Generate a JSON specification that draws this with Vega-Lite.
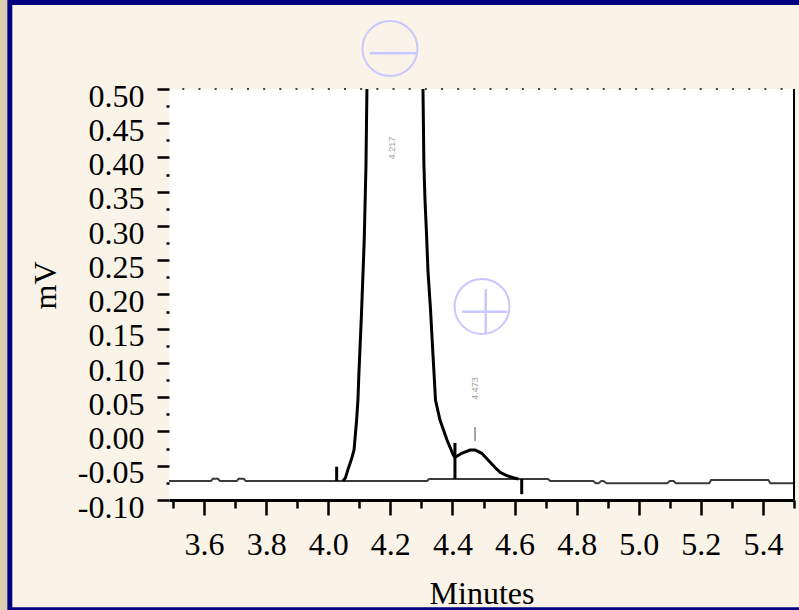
{
  "$schema": "https://vega.github.io/schema/vega-lite/v6.json",
  "width": 625,
  "height": 411,
  "autosize": {"type": "none"},
  "padding": {"left": 169, "top": 89, "right": 5, "bottom": 110},
  "background": "#faf3e8",
  "config": {
    "view": {"stroke": null, "fill": "#ffffff"},
    "font": "Liberation Serif",
    "axis": {
      "labelFont": "Liberation Serif", "titleFont": "Liberation Serif",
      "labelColor": "#000000", "titleColor": "#000000", "tickColor": "#000000", "domainColor": "#000000",
      "grid": false, "labelFontSize": 32, "titleFontSize": 32, "titleFontWeight": "normal",
      "labelFlush": false, "labelOverlap": false
    }
  },
  "datasets": {
    "one": [{}],
    "baseline": [
      {"t": 3.487, "v": -0.0723}, {"t": 3.622, "v": -0.0723}, {"t": 3.628, "v": -0.069}, {"t": 3.645, "v": -0.069},
      {"t": 3.651, "v": -0.0723}, {"t": 3.705, "v": -0.0723}, {"t": 3.711, "v": -0.069}, {"t": 3.728, "v": -0.069},
      {"t": 3.734, "v": -0.0723}, {"t": 4.318, "v": -0.0723}, {"t": 4.325, "v": -0.0693}, {"t": 4.708, "v": -0.0693},
      {"t": 4.715, "v": -0.0723}, {"t": 4.853, "v": -0.0723}, {"t": 4.862, "v": -0.0756}, {"t": 4.870, "v": -0.0756},
      {"t": 4.880, "v": -0.0723}, {"t": 4.886, "v": -0.0723}, {"t": 4.896, "v": -0.0756}, {"t": 5.092, "v": -0.0756},
      {"t": 5.100, "v": -0.0723}, {"t": 5.112, "v": -0.0723}, {"t": 5.120, "v": -0.0756}, {"t": 5.227, "v": -0.0756},
      {"t": 5.233, "v": -0.0708}, {"t": 5.417, "v": -0.0708}, {"t": 5.424, "v": -0.0756}, {"t": 5.5, "v": -0.0756}
    ],
    "signal": [
      {"t": 4.047, "v": -0.0723}, {"t": 4.055, "v": -0.068}, {"t": 4.063, "v": -0.056}, {"t": 4.075, "v": -0.04},
      {"t": 4.083, "v": -0.027}, {"t": 4.0913, "v": 0.0168}, {"t": 4.0955, "v": 0.046}, {"t": 4.0987, "v": 0.0854},
      {"t": 4.1068, "v": 0.1701}, {"t": 4.1158, "v": 0.2796}, {"t": 4.1213, "v": 0.3861}, {"t": 4.1245, "v": 0.5},
      {"t": 4.14, "v": 0.75}, {"t": 4.2, "v": 1.05}, {"t": 4.28, "v": 0.75}, {"t": 4.305, "v": 0.5},
      {"t": 4.308, "v": 0.3905}, {"t": 4.3115, "v": 0.338}, {"t": 4.3163, "v": 0.2898}, {"t": 4.3211, "v": 0.2343},
      {"t": 4.3292, "v": 0.1788}, {"t": 4.3356, "v": 0.1248}, {"t": 4.342, "v": 0.0737}, {"t": 4.3453, "v": 0.046},
      {"t": 4.3598, "v": 0.0168}, {"t": 4.3824, "v": -0.0124}, {"t": 4.4027, "v": -0.0343}, {"t": 4.4082, "v": -0.0377},
      {"t": 4.4298, "v": -0.0318}, {"t": 4.4565, "v": -0.027}, {"t": 4.4727, "v": -0.027}, {"t": 4.4943, "v": -0.0318},
      {"t": 4.5155, "v": -0.042}, {"t": 4.5371, "v": -0.0525}, {"t": 4.5533, "v": -0.0595}, {"t": 4.5749, "v": -0.0645},
      {"t": 4.5961, "v": -0.0675}, {"t": 4.6123, "v": -0.0693}
    ],
    "markers": [
      {"t": 4.027, "v1": -0.0723, "v2": -0.0514},
      {"t": 4.408, "v1": -0.0693, "v2": -0.0166},
      {"t": 4.623, "v1": -0.0693, "v2": -0.0915}
    ],
    "apex": [{"t": 4.4727, "v1": 0.0066, "v2": -0.0139}],
    "peaklabels": [
      {"t": 4.205, "v": 0.4139, "label": "4.217"},
      {"t": 4.4727, "v": 0.0628, "label": "4.473"}
    ],
    "symbols": [
      {"t": 4.1987, "v": 0.5591, "kind": "minus"},
      {"t": 4.4952, "v": 0.1825, "kind": "plus"}
    ]
  },
  "layer": [
    {
      "data": {"name": "one"},
      "mark": {"type": "rule", "color": "#dccfb0", "strokeWidth": 7.3, "clip": false},
      "encoding": {
        "x": {"datum": 2.9545, "type": "quantitative", "scale": {"domain": [3.487, 5.5], "nice": false, "zero": false}, "axis": null},
        "y": {"datum": 0.632, "type": "quantitative", "scale": {"domain": [-0.1, 0.5], "nice": false, "zero": false}, "axis": null},
        "y2": {"datum": -0.262}
      }
    },
    {
      "data": {"name": "one"},
      "mark": {"type": "rule", "color": "#000080", "strokeWidth": 5, "clip": false},
      "encoding": {
        "x": {"datum": 2.9743, "type": "quantitative", "scale": {"domain": [3.487, 5.5], "nice": false, "zero": false}, "axis": null},
        "y": {"datum": 0.632, "type": "quantitative", "scale": {"domain": [-0.1, 0.5], "nice": false, "zero": false}, "axis": null},
        "y2": {"datum": -0.262}
      }
    },
    {
      "data": {"name": "one"},
      "mark": {"type": "rule", "color": "#000080", "strokeWidth": 5, "clip": false},
      "encoding": {
        "x": {"datum": 2.9685, "type": "quantitative", "scale": {"domain": [3.487, 5.5], "nice": false, "zero": false}, "axis": null},
        "x2": {"datum": 5.7},
        "y": {"datum": 0.6263, "type": "quantitative", "scale": {"domain": [-0.1, 0.5], "nice": false, "zero": false}, "axis": null}
      }
    },
    {
      "data": {"name": "one"},
      "mark": {"type": "rule", "color": "#000080", "strokeWidth": 3, "clip": false},
      "encoding": {
        "x": {"datum": 2.9685, "type": "quantitative", "scale": {"domain": [3.487, 5.5], "nice": false, "zero": false}, "axis": null},
        "x2": {"datum": 5.7},
        "y": {"datum": -0.2587, "type": "quantitative", "scale": {"domain": [-0.1, 0.5], "nice": false, "zero": false}, "axis": null}
      }
    },
    {
      "data": {"name": "baseline"},
      "mark": {"type": "line", "color": "#3a3a3a", "strokeWidth": 2, "clip": true},
      "encoding": {
        "x": {
          "field": "t", "type": "quantitative",
          "scale": {"domain": [3.487, 5.5], "nice": false, "zero": false},
          "axis": {
            "orient": "bottom", "values": [3.6, 3.8, 4.0, 4.2, 4.4, 4.6, 4.8, 5.0, 5.2, 5.4], "format": ".1f",
            "tickSize": 15, "tickWidth": 2.5, "domainWidth": 3, "labelPadding": 14,
            "title": "Minutes", "titlePadding": 18
          }
        },
        "y": {
          "field": "v", "type": "quantitative",
          "scale": {"domain": [-0.1, 0.5], "nice": false, "zero": false},
          "axis": {
            "orient": "left",
            "values": [-0.1, -0.05, 0, 0.05, 0.1, 0.15, 0.2, 0.25, 0.3, 0.35, 0.4, 0.45, 0.5],
            "labelExpr": "replace(format(datum.value, '.2f'), '\u2212', '-')",
            "tickSize": 12, "tickWidth": 2.5, "domain": false, "labelPadding": 13, "labelOffset": 7,
            "title": "mV", "titlePadding": 15, "titleY": 196
          }
        }
      }
    },
    {
      "data": {"name": "signal"},
      "mark": {"type": "line", "color": "#000000", "strokeWidth": 3, "clip": true},
      "encoding": {
        "x": {
          "field": "t", "type": "quantitative",
          "scale": {"domain": [3.487, 5.5], "nice": false, "zero": false},
          "axis": {
            "orient": "bottom", "values": [3.5, 3.7, 3.9, 4.1, 4.3, 4.5, 4.7, 4.9, 5.1, 5.3, 5.5],
            "tickSize": 8, "tickWidth": 2.5, "labels": false, "domain": false, "title": null
          }
        },
        "y": {
          "field": "v", "type": "quantitative",
          "scale": {"domain": [-0.1, 0.5], "nice": false, "zero": false},
          "axis": {
            "orient": "left",
            "values": [-0.075, -0.025, 0.025, 0.075, 0.125, 0.175, 0.225, 0.275, 0.325, 0.375, 0.425, 0.475],
            "tickSize": 3, "tickWidth": 2.5, "labels": false, "domain": false, "title": null
          }
        }
      }
    },
    {
      "data": {"name": "markers"},
      "mark": {"type": "rule", "color": "#000000", "strokeWidth": 3},
      "encoding": {
        "x": {"field": "t", "type": "quantitative", "scale": {"domain": [3.487, 5.5], "nice": false, "zero": false}, "axis": null},
        "y": {"field": "v1", "type": "quantitative", "scale": {"domain": [-0.1, 0.5], "nice": false, "zero": false}, "axis": null},
        "y2": {"field": "v2"}
      }
    },
    {
      "data": {"name": "apex"},
      "mark": {"type": "rule", "color": "#888888", "strokeWidth": 1.5},
      "encoding": {
        "x": {"field": "t", "type": "quantitative", "scale": {"domain": [3.487, 5.5], "nice": false, "zero": false}, "axis": null},
        "y": {"field": "v1", "type": "quantitative", "scale": {"domain": [-0.1, 0.5], "nice": false, "zero": false}, "axis": null},
        "y2": {"field": "v2"}
      }
    },
    {
      "data": {"name": "one"},
      "mark": {"type": "rule", "color": "#000000", "strokeWidth": 2, "clip": false},
      "encoding": {
        "x": {"datum": 5.5, "type": "quantitative", "scale": {"domain": [3.487, 5.5], "nice": false, "zero": false}, "axis": null},
        "y": {"datum": -0.1, "type": "quantitative", "scale": {"domain": [-0.1, 0.5], "nice": false, "zero": false}, "axis": null},
        "y2": {"datum": 0.5}
      }
    },
    {
      "data": {"name": "one"},
      "mark": {"type": "rule", "color": "#444444", "strokeWidth": 2, "strokeDash": [2, 14.17], "strokeDashOffset": 2.87, "clip": false},
      "encoding": {
        "x": {"datum": 3.487, "type": "quantitative", "scale": {"domain": [3.487, 5.5], "nice": false, "zero": false}, "axis": null},
        "x2": {"datum": 5.5},
        "y": {"datum": 0.5, "type": "quantitative", "scale": {"domain": [-0.1, 0.5], "nice": false, "zero": false}, "axis": null}
      }
    },
    {
      "data": {"name": "peaklabels"},
      "mark": {"type": "text", "angle": 270, "fontSize": 9, "color": "#a0a0a0", "align": "center", "baseline": "middle", "font": "Liberation Sans"},
      "encoding": {
        "x": {"field": "t", "type": "quantitative", "scale": {"domain": [3.487, 5.5], "nice": false, "zero": false}, "axis": null},
        "y": {"field": "v", "type": "quantitative", "scale": {"domain": [-0.1, 0.5], "nice": false, "zero": false}, "axis": null},
        "text": {"field": "label"}
      }
    },
    {
      "data": {"name": "symbols"},
      "mark": {"type": "point", "shape": "circle", "filled": false, "stroke": "#c8c8ff", "strokeWidth": 2, "size": 3019, "opacity": 1, "clip": false},
      "encoding": {
        "x": {"field": "t", "type": "quantitative", "scale": {"domain": [3.487, 5.5], "nice": false, "zero": false}, "axis": null},
        "y": {"field": "v", "type": "quantitative", "scale": {"domain": [-0.1, 0.5], "nice": false, "zero": false}, "axis": null}
      }
    },
    {
      "data": {"name": "symbols"},
      "mark": {"type": "point", "filled": false, "stroke": "#c8c8ff", "strokeWidth": 2.5, "size": 3844, "opacity": 1, "clip": false},
      "encoding": {
        "x": {"field": "t", "type": "quantitative", "scale": {"domain": [3.487, 5.5], "nice": false, "zero": false}, "axis": null},
        "y": {"field": "v", "type": "quantitative", "scale": {"domain": [-0.1, 0.5], "nice": false, "zero": false}, "axis": null},
        "shape": {
          "field": "kind", "type": "nominal",
          "scale": {"domain": ["minus", "plus"], "range": ["M-0.65,0.15L0.84,0.15", "M-0.65,0.17L0.81,0.17M0.12,-0.56L0.12,0.89"]},
          "legend": null
        }
      }
    }
  ],
  "resolve": {"axis": {"x": "independent", "y": "independent"}}
}
